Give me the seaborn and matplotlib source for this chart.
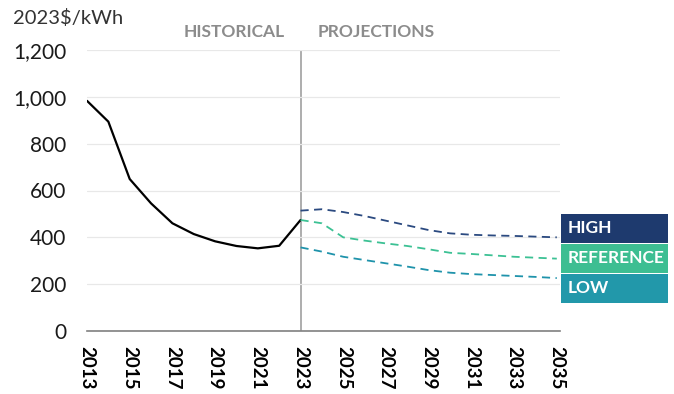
import matplotlib
matplotlib.use("Agg")
import matplotlib.pyplot as plt
import seaborn as sns
import pandas as pd
from matplotlib.patches import Rectangle

hist_years = list(range(2013, 2024))
hist_values = [983, 894, 649, 545, 460, 414, 383, 363, 353, 364, 474]

proj_years = list(range(2023, 2036))
high_values = [514, 520, 508, 491, 471, 451, 431, 417, 411, 408, 406, 403, 400]
ref_values = [474, 460, 400, 386, 374, 363, 349, 334, 329, 323, 317, 313, 309]
low_values = [357, 339, 317, 303, 289, 275, 260, 249, 243, 239, 235, 231, 226]

x_ticks = list(range(2013, 2036, 2))
y_ticks = [0, 200, 400, 600, 800, 1000, 1200]
y_tick_labels = ["0", "200", "400", "600", "800", "1,000", "1,200"]
scenario_names = ["HIGH", "REFERENCE", "LOW"]

sns.set_theme(style="white")
plt.rcParams['font.family'] = ['Lato', 'DejaVu Sans']

fig = plt.figure(figsize=(6.74, 3.94), dpi=100)
ax = fig.add_axes([87/674, 1-331/394, (560-87)/674, (331-50)/394])

c_high = "#2B4A80"
c_ref = "#3CC194"
c_low = "#1F93AB"

hist_df = pd.DataFrame({"year": hist_years, "value": hist_values})
sns.lineplot(data=hist_df, x="year", y="value", ax=ax, color="black", linewidth=1.6)

proj_df = pd.DataFrame({
    "year": proj_years * 3,
    "value": high_values + ref_values + low_values,
    "scenario": ["HIGH"] * 13 + ["REFERENCE"] * 13 + ["LOW"] * 13,
})
sns.lineplot(data=proj_df, x="year", y="value", hue="scenario", ax=ax,
             palette={"HIGH": c_high, "REFERENCE": c_ref, "LOW": c_low},
             linewidth=1.3, legend=False)
for line in ax.lines[1:]:
    line.set_dashes((4.5, 3))

ax.axvline(2023, color="#A0A0A0", linewidth=1.2, zorder=0)

ax.set_xlim(2013, 2035.15)
ax.set_ylim(0, 1200)
ax.set_yticks(y_ticks)
ax.set_yticklabels(y_tick_labels)
ax.set_xticks(x_ticks)
ax.set_xticklabels([str(t) for t in x_ticks], rotation=-90, fontweight="bold")
ax.tick_params(axis="y", length=0, labelsize=15, pad=15, labelcolor="#1a1a1a")
ax.tick_params(axis="x", direction="in", length=5, width=1, color="#808080",
               labelsize=13.5, pad=11, labelcolor="black")
ax.grid(axis="y", color="#E8E8E8", linewidth=0.9)
ax.set_xlabel("")
ax.set_ylabel("")
for s in ["top", "right", "left"]:
    ax.spines[s].set_visible(False)
ax.spines["bottom"].set_color("#808080")
ax.spines["bottom"].set_linewidth(1.2)

fig.text(13/674, 1-18/394, "2023$/kWh", fontsize=14.5, color="#333333", va="center", ha="left")
fig.text(234/674, 1-32/394, "HISTORICAL", fontsize=12.5, fontweight="bold", color="#8C8C8C", va="center", ha="center")
fig.text(376/674, 1-32/394, "PROJECTIONS", fontsize=12.5, fontweight="bold", color="#8C8C8C", va="center", ha="center")

boxes = [(213.5, 242.5, "#1E3A6E"), (243.5, 272.5, "#3DBE92"), (273.5, 302.5, "#2298AA")]
for name, (y0, y1, col) in zip(scenario_names, boxes):
    fig.add_artist(Rectangle((561/674, 1-y1/394), (668-561)/674, (y1-y0)/394,
                             transform=fig.transFigure, facecolor=col, edgecolor="none"))
    fig.text(568/674, 1-((y0+y1)/2)/394, name, fontsize=12.5, fontweight="bold",
             color="white", va="center", ha="left")

fig.savefig("out.png", dpi=100)
